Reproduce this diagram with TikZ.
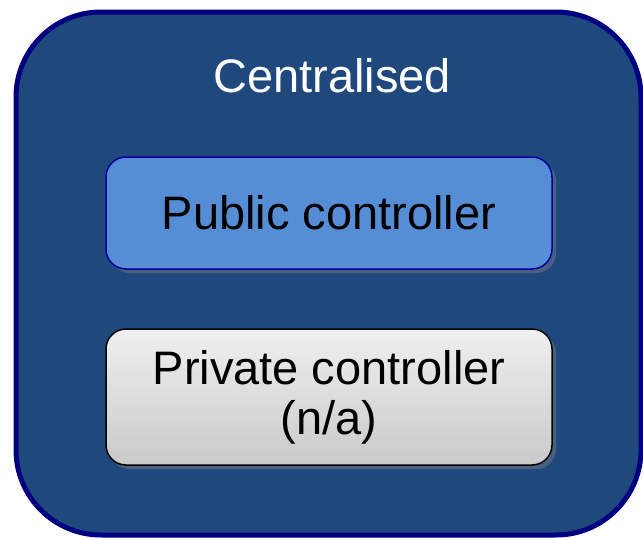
\documentclass[tikz,border=0pt]{standalone}
\usepackage{fontspec}
\setmainfont{Liberation Sans}
\usepackage{tikz}
\usetikzlibrary{shadows}
\definecolor{frameblue}{RGB}{31,73,125}
\definecolor{framenavy}{RGB}{0,0,128}
\definecolor{pubblue}{RGB}{85,142,213}
\definecolor{pubedge}{RGB}{0,0,160}
\tikzset{
  ctrlbox/.style={minimum width=446pt,minimum height=112pt,inner sep=0pt,rounded corners=20pt,
    drop shadow={shadow xshift=4pt,shadow yshift=-4pt,opacity=0.45},font=\fontsize{47}{50}\selectfont},
}

\begin{document}
\begin{tikzpicture}[x=1pt,y=-1pt]
\useasboundingbox (0,0) rectangle (643,538);
\node[draw=framenavy,line width=5pt,fill=frameblue,rounded corners=85pt,minimum width=625pt,minimum height=523pt,inner sep=0pt] (frame) at (328.5,273.5) {};
\node[anchor=base,text=white,font=\fontsize{47}{50}\selectfont,inner sep=0pt] (title) at (332,92) {Centralised};
\node[ctrlbox,draw=pubedge,line width=1.5pt,fill=pubblue] (pub) at (329,213) {Public controller};
\node[ctrlbox,draw=black,line width=1.5pt,minimum height=136pt,top color=gray!12,bottom color=gray!42,align=center] (priv) at (329,397) {Private controller\\(n/a)};
\end{tikzpicture}
\end{document}
